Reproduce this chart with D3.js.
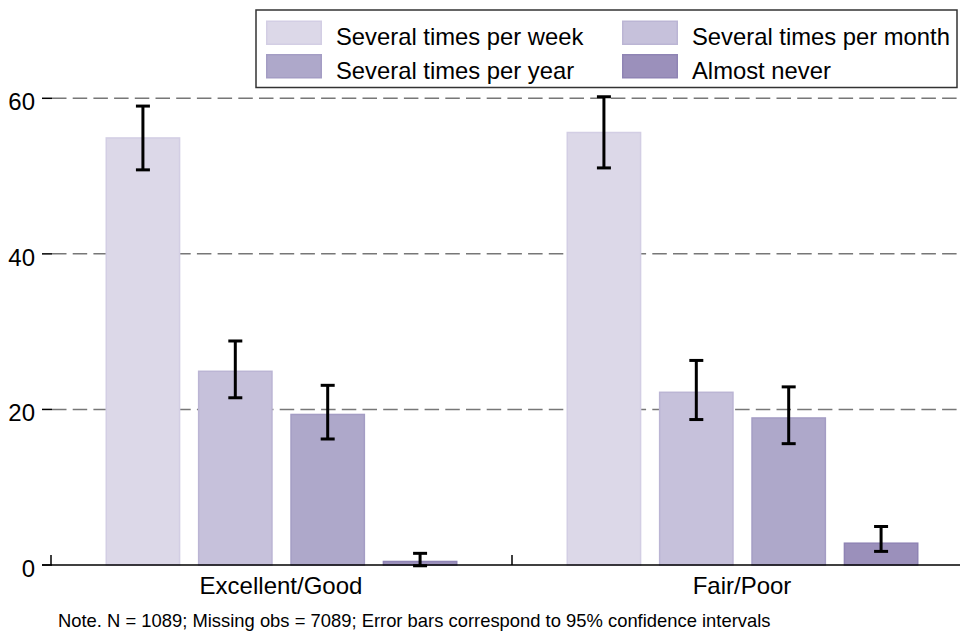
<!DOCTYPE html>
<html>
<head>
<meta charset="utf-8">
<script src="https://cdn.jsdelivr.net/npm/d3@7"></script>
<style>
  html, body { margin: 0; padding: 0; background: #fff; }
  svg { display: block; font-family: "Liberation Sans", Arial, sans-serif; }
</style>
</head>
<body>
<svg id="chart" width="960" height="631"></svg>
<script>
// ---- data ----
const categories = ["Excellent/Good", "Fair/Poor"];
const seriesNames = ["Several times per week", "Several times per month", "Several times per year", "Almost never"];
const seriesColors = ["#dcd8e8", "#c6c1db", "#aea8ca", "#9b90bb"];
const seriesStrokes = ["#d3cee4", "#bbb5d4", "#a49dc4", "#8f84b4"];
// values[category][series]
const valuesExcellent = [55.0, 25.0, 19.45, 0.55];
const valuesFair = [55.7, 22.3, 19.0, 2.9];
const lowerExcellent = [50.8, 21.5, 16.2, -0.1];
const upperExcellent = [59.0, 28.8, 23.1, 1.5];
const lowerFair = [51.05, 18.7, 15.6, 1.75];
const upperFair = [60.2, 26.3, 22.9, 4.95];
const yTicks = [0, 20, 40, 60];
const noteText = "Note. N = 1089; Missing obs = 7089; Error bars correspond to 95% confidence intervals";

const rows = [
  { cat: categories[0], vals: valuesExcellent, lo: lowerExcellent, hi: upperExcellent },
  { cat: categories[1], vals: valuesFair, lo: lowerFair, hi: upperFair }
];

const svg = d3.select("#chart");

const y = d3.scaleLinear().domain([0, 60]).range([565, 98.3]);
const x0 = d3.scaleBand().domain(categories).range([51, 973]).padding(0);
const x1 = d3.scaleBand().domain(seriesNames).range([0, x0.bandwidth()]).paddingInner(0.19).paddingOuter(0.59);
const color = d3.scaleOrdinal().domain(seriesNames).range(seriesColors);
const strokeC = d3.scaleOrdinal().domain(seriesNames).range(seriesStrokes);

// gridlines
svg.append("g").selectAll("line").data(yTicks.filter(d => d > 0)).join("line")
  .attr("x1", 52).attr("x2", 960)
  .attr("y1", d => y(d)).attr("y2", d => y(d))
  .attr("stroke", "#777").attr("stroke-width", 1.5)
  .attr("stroke-dasharray", "14.5,6.2");

// y axis ticks & labels
const yAxis = svg.append("g");
yAxis.selectAll("line").data(yTicks).join("line")
  .attr("x1", 42).attr("x2", 52)
  .attr("y1", d => y(d)).attr("y2", d => y(d))
  .attr("stroke", "#000").attr("stroke-width", 1.5);
yAxis.selectAll("text").data(yTicks).join("text")
  .attr("x", 35).attr("y", d => y(d) + 12)
  .attr("text-anchor", "end")
  .attr("font-size", 24).attr("fill", "#000")
  .text(d => d);

// bars
const groups = svg.append("g").selectAll("g").data(rows).join("g")
  .attr("transform", d => `translate(${x0(d.cat)},0)`);

groups.selectAll("rect").data(d => seriesNames.map((s, i) => ({ s, v: d.vals[i] }))).join("rect")
  .attr("x", d => x1(d.s) + 0.75)
  .attr("width", x1.bandwidth() - 1.5)
  .attr("y", d => y(d.v) + 0.75)
  .attr("height", d => Math.max(0, y(0) - y(d.v) - 0.75))
  .attr("fill", d => color(d.s))
  .attr("stroke", d => strokeC(d.s))
  .attr("stroke-width", 1.5);

// baseline & x ticks
svg.append("line").attr("x1", 42).attr("x2", 960).attr("y1", y(0)).attr("y2", y(0))
  .attr("stroke", "#000").attr("stroke-width", 1.5);
svg.append("g").selectAll("line").data(categories).join("line")
  .attr("x1", d => x0(d)).attr("x2", d => x0(d))
  .attr("y1", y(0) - 10).attr("y2", y(0))
  .attr("stroke", "#000").attr("stroke-width", 1.5);

// error bars
const eb = groups.selectAll("g.eb").data(d => seriesNames.map((s, i) => ({ s, lo: d.lo[i], hi: d.hi[i] }))).join("g")
  .attr("class", "eb")
  .attr("transform", d => `translate(${x1(d.s) + x1.bandwidth() / 2},0)`);
eb.append("line").attr("x1", 0).attr("x2", 0)
  .attr("y1", d => y(d.lo)).attr("y2", d => y(d.hi))
  .attr("stroke", "#000").attr("stroke-width", 3);
eb.append("line").attr("x1", -7).attr("x2", 7)
  .attr("y1", d => y(d.hi)).attr("y2", d => y(d.hi))
  .attr("stroke", "#000").attr("stroke-width", 3);
eb.append("line").attr("x1", -7).attr("x2", 7)
  .attr("y1", d => y(d.lo)).attr("y2", d => y(d.lo))
  .attr("stroke", "#000").attr("stroke-width", 3);

// category labels
svg.append("g").selectAll("text").data(categories).join("text")
  .attr("x", d => x0(d) + x0.bandwidth() / 2 - 0.5)
  .attr("y", 594)
  .attr("text-anchor", "middle")
  .attr("font-size", 24).attr("fill", "#000")
  .text(d => d);

// note
svg.append("text").attr("x", 58).attr("y", 627)
  .attr("font-size", 18.4).attr("fill", "#000")
  .text(noteText);

// legend
const legend = svg.append("g");
legend.append("rect").attr("x", 256).attr("y", 10).attr("width", 701).attr("height", 77.5)
  .attr("fill", "#fff").attr("stroke", "#333").attr("stroke-width", 1.5);
const li = legend.selectAll("g").data(seriesNames).join("g")
  .attr("transform", (d, i) => `translate(${266 + (i % 2) * 356},${20.5 + Math.floor(i / 2) * 33.5})`);
li.append("rect").attr("x", 0.75).attr("y", 0.75).attr("width", 54.5).attr("height", 23)
  .attr("fill", d => color(d)).attr("stroke", d => strokeC(d)).attr("stroke-width", 1.5);
li.append("text").attr("x", 70).attr("y", 24.5)
  .attr("font-size", 23.8).attr("fill", "#000")
  .text(d => d);
</script>
</body>
</html>
